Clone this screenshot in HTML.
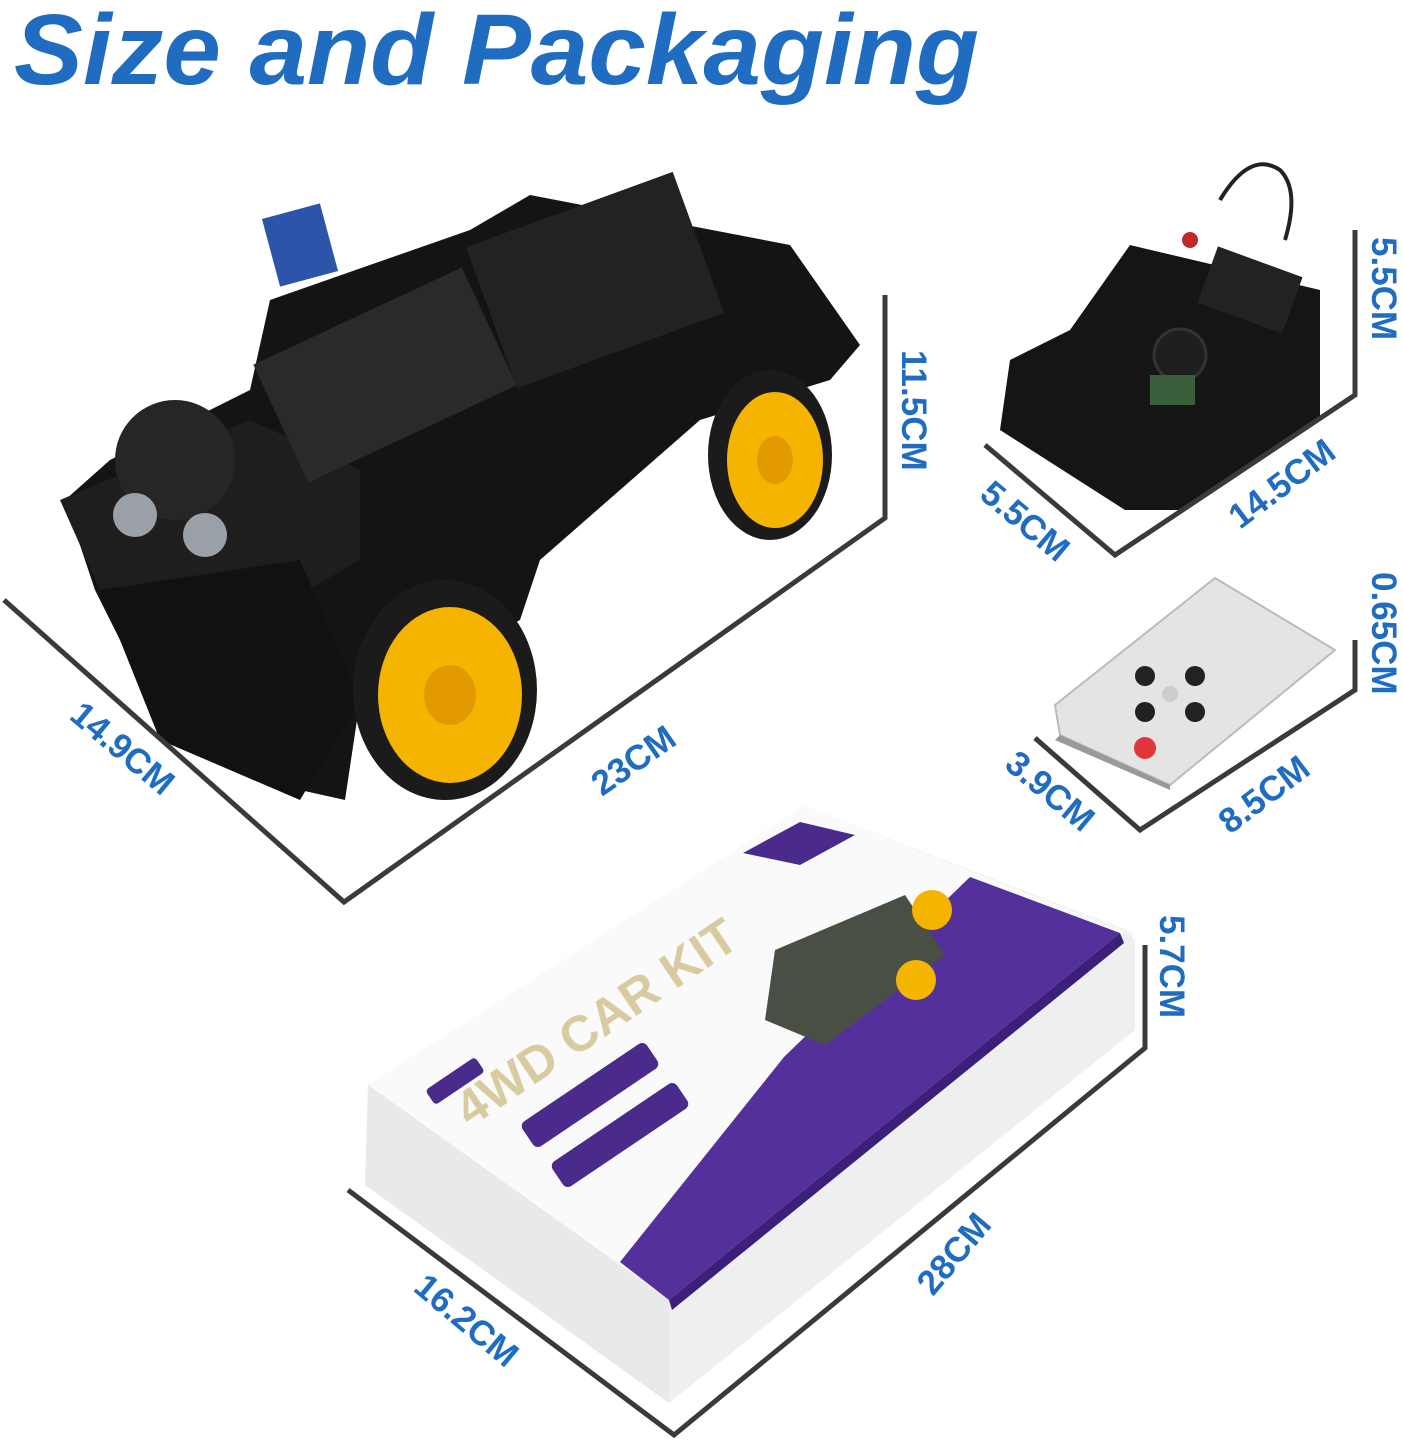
<!DOCTYPE html>
<html><head><meta charset="utf-8"><style>
html,body{margin:0;padding:0;background:#fff;}
svg{display:block}
.t{font-family:"Liberation Sans",sans-serif;font-weight:bold;fill:#1f6cc0;}
</style></head><body>
<svg width="1403" height="1446" viewBox="0 0 1403 1446" xmlns="http://www.w3.org/2000/svg">
<rect width="1403" height="1446" fill="#fff"/>
<text x="14" y="84" class="t" font-size="100" font-style="italic" textLength="965" lengthAdjust="spacingAndGlyphs">Size and Packaging</text>

<!-- car -->
<g>
<polygon points="530,195 790,245 860,345 830,380 700,420 540,560 520,620 360,700 345,800 300,790 150,700 95,590 65,500 110,460 250,390 270,300 470,230" fill="#141414"/>
<polygon points="60,500 250,420 360,470 360,560 220,640 100,590" fill="#1e1e1e"/>
<polygon points="100,590 300,560 360,700 300,800 160,740" fill="#111"/>
<rect x="485" y="205" width="220" height="150" fill="#222" transform="rotate(-20 595 280)"/>
<rect x="270" y="310" width="230" height="130" fill="#2a2a2a" transform="rotate(-25 385 375)"/>
<rect x="270" y="210" width="60" height="70" fill="#2c54a8" transform="rotate(-15 300 245)"/>
<ellipse cx="770" cy="455" rx="62" ry="85" fill="#1b1b1b"/>
<ellipse cx="775" cy="460" rx="48" ry="68" fill="#f5b400"/>
<ellipse cx="775" cy="460" rx="18" ry="24" fill="#e39a00"/>
<ellipse cx="445" cy="690" rx="92" ry="110" fill="#1b1b1b"/>
<ellipse cx="450" cy="695" rx="72" ry="88" fill="#f5b400"/>
<ellipse cx="450" cy="695" rx="26" ry="30" fill="#e39a00"/>
<ellipse cx="175" cy="460" rx="60" ry="60" fill="#262626"/>
<circle cx="135" cy="515" r="22" fill="#9aa0a8"/>
<circle cx="205" cy="535" r="22" fill="#9aa0a8"/>
</g>

<!-- controller -->
<g>
<polygon points="1130,245 1320,290 1320,420 1180,510 1125,510 1000,430 1010,360 1070,330" fill="#151515"/>
<rect x="1205" y="260" width="90" height="60" fill="#222" transform="rotate(20 1250 290)"/>
<circle cx="1180" cy="355" r="26" fill="#1f1f1f" stroke="#333" stroke-width="3"/>
<rect x="1150" y="375" width="45" height="30" fill="#3a5f3a"/>
<circle cx="1190" cy="240" r="8" fill="#c0282c"/>
<path d="M1220,200 Q1250,150 1280,170 Q1300,190 1285,240" stroke="#222" stroke-width="4" fill="none"/>
</g>

<!-- remote -->
<g>
<polygon points="1215,578 1335,650 1170,785 1060,735 1055,705" fill="#e4e4e4" stroke="#bbb" stroke-width="2"/>
<polygon points="1060,735 1170,785 1170,790 1055,740" fill="#999"/>
<circle cx="1145" cy="748" r="11" fill="#e0353a"/>
<circle cx="1145" cy="712" r="10" fill="#222"/>
<circle cx="1195" cy="712" r="10" fill="#222"/>
<circle cx="1195" cy="676" r="10" fill="#222"/>
<circle cx="1145" cy="676" r="10" fill="#222"/>
<circle cx="1170" cy="694" r="8" fill="#ccc"/>
</g>

<!-- box -->
<g>
<polygon points="368,1085 804,806 1132,932 1135,1030 669,1403 365,1185" fill="#f3f3f3"/>
<polygon points="368,1085 804,806 1125,932 669,1300" fill="#fafafa"/>
<polygon points="368,1085 669,1300 669,1403 365,1185" fill="#e9e9e9"/>
<polygon points="669,1300 1125,932 1135,940 1135,1030 669,1403" fill="#efefef"/>
<polygon points="970,877 1120,933 669,1300 620,1262 784,1057" fill="#54309a"/>
<polygon points="669,1300 1120,933 1124,943 672,1310" fill="#3b1f78"/>
<polygon points="743,853 800,822 855,835 800,865" fill="#4a2a8a"/>
<polygon points="775,950 905,895 945,955 825,1045 765,1020" fill="#4a4f45"/>
<circle cx="932" cy="910" r="20" fill="#f5b400"/>
<circle cx="916" cy="980" r="20" fill="#f5b400"/>
<rect x="425" y="1072" width="60" height="18" rx="4" fill="#4a2a8a" transform="rotate(-34 455 1081)"/>
<rect x="515" y="1080" width="150" height="30" rx="6" fill="#4a2a8a" transform="rotate(-34 590 1095)"/>
<rect x="545" y="1120" width="150" height="30" rx="6" fill="#4a2a8a" transform="rotate(-34 620 1135)"/>
<text x="0" y="0" font-family="Liberation Sans,sans-serif" font-weight="bold" font-size="50" fill="#d8cba0" transform="translate(470,1128) rotate(-34)">4WD CAR KIT</text>
</g>

<!-- dimension lines -->
<g stroke="#3a3a3a" stroke-width="5" fill="none">
<polyline points="4,600 344,902 885,518 885,295"/>
<polyline points="985,445 1115,555 1355,395 1355,230"/>
<polyline points="1035,738 1140,830 1355,690 1355,640"/>
<polyline points="348,1190 674,1435 1145,1048 1145,945"/>
</g>

<!-- labels -->
<g class="t" font-size="35">
<text transform="translate(68,718) rotate(40)">14.9CM</text>
<text transform="translate(602,797) rotate(-35)">23CM</text>
<text transform="translate(902,350) rotate(90)">11.5CM</text>
<text transform="translate(978,497) rotate(40)">5.5CM</text>
<text transform="translate(1240,530) rotate(-37)">14.5CM</text>
<text transform="translate(1372,237) rotate(90)">5.5CM</text>
<text transform="translate(1372,572) rotate(90)">0.65CM</text>
<text transform="translate(1003,767) rotate(40)">3.9CM</text>
<text transform="translate(1230,835) rotate(-37)">8.5CM</text>
<text transform="translate(1160,915) rotate(90)">5.7CM</text>
<text transform="translate(412,1290) rotate(40)">16.2CM</text>
<text transform="translate(933,1297) rotate(-50)">28CM</text>
</g>
</svg>
</body></html>
